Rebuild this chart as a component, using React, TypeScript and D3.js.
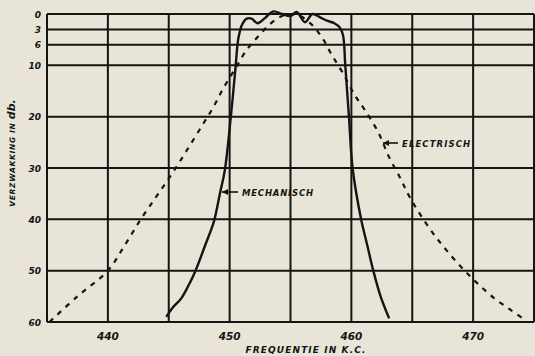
import { useRef, useEffect } from "react";
import * as d3 from "d3";

// Mechanical filter response (solid)
const mechFreq = [444.8, 445.4, 446.0, 446.6, 447.2, 448.0, 448.7, 449.2, 449.6, 450.1, 450.5, 450.7, 451.0, 451.4, 451.8, 452.3, 452.9, 453.6, 454.3, 455.0, 455.5, 456.2, 456.8, 457.4, 458.0, 458.6, 459.0, 459.3, 459.5, 459.8, 460.1, 460.8, 461.3, 461.8, 462.4, 463.1];
const mechDb = [59, 57, 55.5, 53, 50, 45, 40.5, 35, 30.5, 20, 10, 5, 2.2, 0.9, 0.9, 1.8, 0.8, -0.5, 0, 0.4, -0.4, 1.6, 0, 0.6, 1.3, 1.8, 2.5, 4, 10, 20, 30, 40, 45, 50, 55, 59.3];

// Electrical filter response (dashed)
const elecFreq = [435.2, 437.5, 440, 441.4, 442.7, 444.0, 445.3, 446.5, 447.8, 448.7, 449.5, 450.5, 451.4, 452.3, 453.3, 454.3, 455.0, 455.8, 456.8, 457.7, 458.4, 459.3, 460.2, 461.1, 462.2, 463.1, 464.0, 464.8, 466.4, 467.8, 469.3, 470.5, 471.8, 473.0, 474.2];
const elecDb = [60, 55, 50, 45, 40, 35.5, 31, 26.5, 21.5, 18, 14.4, 10.5, 7, 4.5, 2, 0.4, 0, 0.4, 2.2, 5, 8, 11.5, 15.5, 18.7, 23, 27.9, 31.9, 35.7, 41.7, 46, 50, 52.8, 55.5, 57.5, 59.5];

const yTicks = [0, 3, 6, 10, 20, 30, 40, 50, 60];
const xGrid = [435, 440, 445, 450, 455, 460, 465, 470, 475];
const xLabels = [440, 450, 460, 470];

const ink = "#161412";
const paper = "#e8e4d8";
const font = "DejaVu Sans";

export default function App() {
  const svgRef = useRef<SVGSVGElement>(null);

  useEffect(() => {
    if (!svgRef.current) return;
    const width = 535;
    const height = 356;
    const svg = d3.select(svgRef.current);
    svg.selectAll("*").remove();
    svg.attr("width", width).attr("height", height);

    svg.append("rect").attr("width", width).attr("height", height).attr("fill", paper);

    const x = d3.scaleLinear().domain([435, 475]).range([47, 534]);
    const y = d3.scaleLinear().domain([0, 60]).range([14, 322]);

    // Grid
    svg
      .append("g")
      .selectAll("line")
      .data(yTicks)
      .join("line")
      .attr("x1", x(435))
      .attr("x2", x(475))
      .attr("y1", (d) => y(d))
      .attr("y2", (d) => y(d))
      .attr("stroke", ink)
      .attr("stroke-width", 2);

    svg
      .append("g")
      .selectAll("line")
      .data(xGrid)
      .join("line")
      .attr("x1", (d) => x(d))
      .attr("x2", (d) => x(d))
      .attr("y1", y(0))
      .attr("y2", y(60))
      .attr("stroke", ink)
      .attr("stroke-width", 2);

    // Tick labels
    svg
      .append("g")
      .selectAll("text")
      .data(yTicks)
      .join("text")
      .attr("x", 41)
      .attr("y", (d) => y(d) + 3.5)
      .attr("text-anchor", "end")
      .attr("font-family", font)
      .attr("font-size", 9)
      .attr("font-weight", "bold")
      .attr("font-style", "italic")
      .attr("fill", ink)
      .text((d) => d);

    svg
      .append("g")
      .selectAll("text")
      .data(xLabels)
      .join("text")
      .attr("x", (d) => x(d))
      .attr("y", 340)
      .attr("text-anchor", "middle")
      .attr("font-family", font)
      .attr("font-size", 10.5)
      .attr("font-weight", "bold")
      .attr("font-style", "italic")
      .attr("fill", ink)
      .text((d) => d);

    // Axis titles
    svg
      .append("text")
      .attr("x", 306)
      .attr("y", 353)
      .attr("text-anchor", "middle")
      .attr("font-family", font)
      .attr("font-size", 9)
      .attr("font-weight", "bold")
      .attr("font-style", "italic")
      .attr("letter-spacing", 1.1)
      .attr("fill", ink)
      .text("FREQUENTIE IN K.C.");

    const yt = svg
      .append("text")
      .attr("transform", "translate(15,153) rotate(-90)")
      .attr("text-anchor", "middle")
      .attr("font-family", font)
      .attr("font-size", 7.5)
      .attr("font-weight", "bold")
      .attr("font-style", "italic")
      .attr("letter-spacing", 0.7)
      .attr("fill", ink);
    yt.append("tspan").text("VERZWAKKING IN ");
    yt.append("tspan").attr("font-size", 11).attr("letter-spacing", 0).text("db.");

    // Curves
    const line = d3
      .line<[number, number]>()
      .x((d) => x(d[0]))
      .y((d) => y(d[1]))
      .curve(d3.curveCatmullRom.alpha(0.5));

    const elec = elecFreq.map((f, i) => [f, elecDb[i]] as [number, number]);
    const mech = mechFreq.map((f, i) => [f, mechDb[i]] as [number, number]);

    svg
      .append("path")
      .attr("d", line(elec))
      .attr("fill", "none")
      .attr("stroke", ink)
      .attr("stroke-width", 2.2)
      .attr("stroke-dasharray", "5,6");

    svg
      .append("path")
      .attr("d", line(mech))
      .attr("fill", "none")
      .attr("stroke", ink)
      .attr("stroke-width", 2.4);

    // Annotations
    const arrow = (x1: number, x2: number, yy: number) => {
      svg.append("line").attr("x1", x1).attr("x2", x2).attr("y1", yy).attr("y2", yy)
        .attr("stroke", ink).attr("stroke-width", 1.6);
      svg.append("path")
        .attr("d", `M${x1},${yy} l6,-3 l0,6 z`)
        .attr("fill", ink);
    };

    arrow(383, 398, 143);
    svg
      .append("text")
      .attr("x", 402)
      .attr("y", 147)
      .attr("font-family", font)
      .attr("font-size", 8.5)
      .attr("font-weight", "bold")
      .attr("font-style", "italic")
      .attr("letter-spacing", 1.1)
      .attr("fill", ink)
      .text("ELECTRISCH");

    arrow(222, 238, 192);
    svg
      .append("text")
      .attr("x", 242)
      .attr("y", 196)
      .attr("font-family", font)
      .attr("font-size", 8.5)
      .attr("font-weight", "bold")
      .attr("font-style", "italic")
      .attr("letter-spacing", 0.8)
      .attr("fill", ink)
      .text("MECHANISCH");
  }, []);

  return (
    <svg
      ref={svgRef}
      style={{ position: "absolute", left: 0, top: 0, display: "block" }}
    />
  );
}
